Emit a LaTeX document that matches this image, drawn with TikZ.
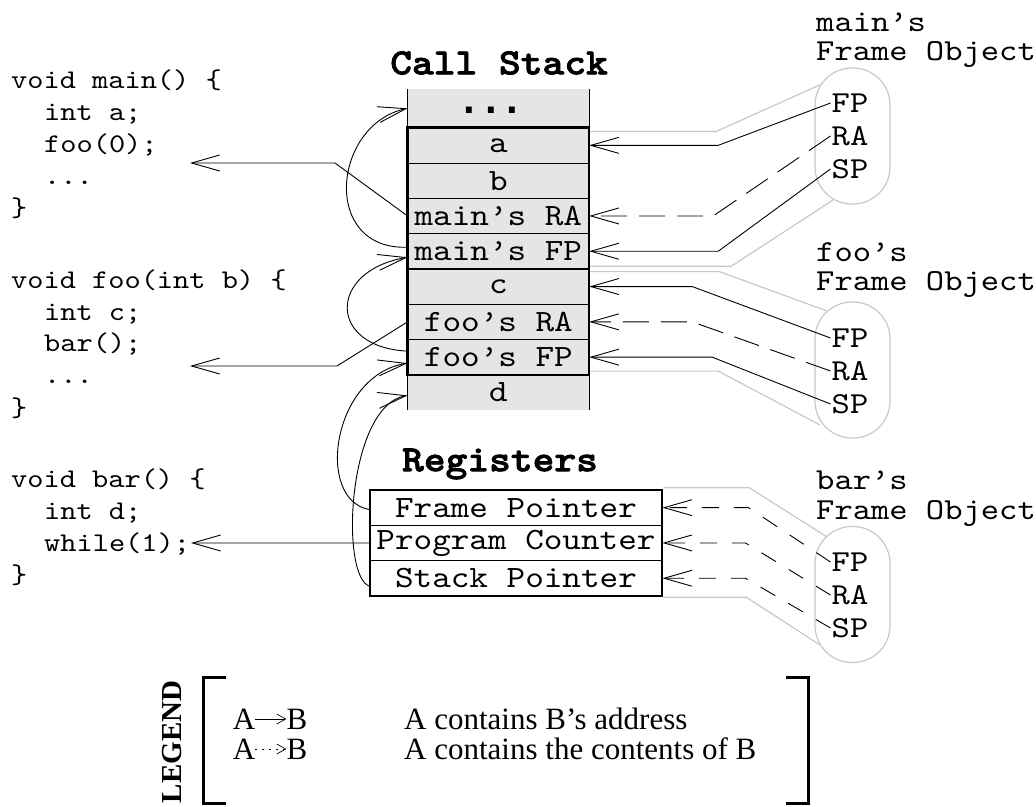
\documentclass[tikz,border=0pt]{standalone}
\usepackage{fontspec}
\setmainfont{Liberation Serif}
\newfontfamily\monof{lmmono10-regular}[Extension=.otf, FakeStretch=1.143]
\newfontfamily\monobf{lmmonolt10-bold}[Extension=.otf, FakeStretch=1.12, FakeBold=2]
\newfontfamily\dotsf{DejaVu Sans Mono Bold}
\usetikzlibrary{arrows.meta,calc}
\definecolor{cellgray}{HTML}{E5E5E5}
\definecolor{linegray}{HTML}{C8C8C8}
\newcommand\cdfont{\monof\fontsize{27}{32}\selectfont}
\newcommand\clfont{\monof\fontsize{31}{35}\selectfont}
\newcommand\lbfont{\monof\fontsize{30.5}{35}\selectfont}
\newcommand\ttlfont{\monobf\fontsize{37}{40}\selectfont}
\newcommand\lgfont{\fontsize{31}{32}\selectfont}
\begin{document}
\begin{tikzpicture}[x=1pt,y=-1pt,
  cell/.style={minimum width=181.3pt, minimum height=35.3pt, inner sep=0pt, font=\clfont},
  reg/.style={draw, line width=0.9pt, minimum width=292pt, minimum height=35.3pt, inner sep=0pt, font=\clfont},
  frm/.style={draw, line width=2.6pt, inner sep=0pt},
  ptr/.style={line width=0.9pt, -{Straight Barb[length=28pt,width=16pt]}},
  cnt/.style={ptr, dash pattern=on 26pt off 12pt},
  bcnt/.style={ptr, dash pattern=on 17pt off 15pt},
  funnel/.style={draw=linegray, line width=1.2pt},
  oval/.style={draw=linegray, line width=1.2pt, rounded corners=37pt, minimum width=75pt, minimum height=136pt, inner sep=0pt},
  lbl/.style={font=\lbfont, inner sep=1pt},
  code/.style={font=\cdfont, anchor=base west, inner sep=0pt},
  lgtxt/.style={font=\lgfont, inner sep=0pt},
  lgarrow/.style={line width=0.7pt, -{Straight Barb[length=9pt,width=10pt]}}
]
\useasboundingbox (0,0) rectangle (1036,806);

% ---------- code ----------
\node[code] (m1) at (11,88) {void main() \{};
\node[code] (m2) at (44,120) {int a;};
\node[code] (m3) at (44,152) {foo(0);};
\node[code] (m4) at (44,184) {...};
\node[code] (m5) at (11,216) {\}};
\node[code] (f1) at (11,288) {void foo(int b) \{};
\node[code] (f2) at (44,320) {int c;};
\node[code] (f3) at (44,351) {bar();};
\node[code] (f4) at (44,383) {...};
\node[code] (f5) at (11,416) {\}};
\node[code] (b1) at (11,487) {void bar() \{};
\node[code] (b2) at (44,519) {int d;};
\node[code] (b3) at (44,551) {while(1);};
\node[code] (b4) at (11,583) {\}};

% ---------- call stack ----------
\node[font=\ttlfont] (cst) at (499,63) {Call Stack};
\fill[cellgray] (407.7,89) rectangle (589,410.1);
\draw[line width=0.9pt] (407.7,89) -- (407.7,410.1) (589,89) -- (589,410.1);
\foreach \yy in {163,198.3,233.6,304.2,339.5}{\draw[line width=0.9pt] (407.7,\yy) -- (589,\yy);}
\node[cell, minimum height=38.7pt, font=\dotsf\fontsize{36}{36}\selectfont, text height=10pt, text depth=0pt] (dots) at (491,108.35) {...};
\node[cell] (a)   at (498.35,145.35) {a};
\node[cell] (b)   at (498.35,180.65) {b};
\node[cell] (mRA) at (498.35,215.95) {main’s RA};
\node[cell] (mFP) at (498.35,251.25) {main’s FP};
\node[cell] (c)   at (498.35,286.55) {c};
\node[cell] (fRA) at (498.35,321.85) {foo’s RA};
\node[cell] (fFP) at (498.35,357.15) {foo’s FP};
\node[cell] (d)   at (498.35,392.45) {d};
\node[frm, minimum width=181.3pt, minimum height=141.2pt] (mframe) at (498.35,198.3) {};
\node[frm, minimum width=181.3pt, minimum height=105.9pt] (fframe) at (498.35,321.85) {};

% ---------- registers ----------
\node[font=\ttlfont] (rtl) at (500,464) {Registers};
\node[reg] (rfp) at (516,507.65) {Frame Pointer};
\node[reg] (rpc) at (516,542.95) {Program Counter};
\node[reg] (rsp) at (516,578.25) {Stack Pointer};
\node[frm, minimum width=292pt, minimum height=105.9pt] (rbox) at (516,542.95) {};

% ---------- frame objects ----------
\node[lbl, anchor=west] (ml1) at (815,22) {main’s};
\node[lbl, anchor=west] (ml2) at (815,54) {Frame Object};
\node[lbl, anchor=west] (fl1) at (815,252) {foo’s};
\node[lbl, anchor=west] (fl2) at (815,284) {Frame Object};
\node[lbl, anchor=west] (bl1) at (815,480) {bar’s};
\node[lbl, anchor=west] (bl2) at (815,513) {Frame Object};

\node[oval] (mo) at (852.5,136) {};
\node[oval] (fo) at (852.5,370) {};
\node[oval] (bo) at (852.5,594.5) {};

\node[lbl] (mfp) at (850,103) {FP};
\node[lbl] (mra) at (850,136) {RA};
\node[lbl] (msp) at (850,169) {SP};
\node[lbl] (ffp) at (850,338) {FP};
\node[lbl] (fra) at (850,371) {RA};
\node[lbl] (fsp) at (850,404) {SP};
\node[lbl] (bfp) at (850,562) {FP};
\node[lbl] (bra) at (850,595) {RA};
\node[lbl] (bsp) at (850,628) {SP};

% funnels
\coordinate (mot) at (822,84);  \coordinate (mob) at (833,200);
\coordinate (fot) at (827,311); \coordinate (fob) at (820,425);
\coordinate (bot) at (827,537); \coordinate (bob) at (820,645);
\draw[funnel] ([yshift=-5pt]mframe.north east) -- +(126,0) -- (mot);
\draw[funnel] ([yshift=4pt]mframe.south east) -- +(141,0) -- (mob);
\draw[funnel] ([yshift=-4pt]fframe.north east) -- +(129,0) -- (fot);
\draw[funnel] ([yshift=5pt]fframe.south east) -- +(128,0) -- (fob);
\draw[funnel] ([yshift=1pt]rbox.north east) -- +(86,0) -- (bot);
\draw[funnel] (rbox.south east) -- +(83,0) -- (bob);

% ---------- right-side pointers ----------
\draw[ptr] (mfp.west) -- ($(a.east)+(129,0)$) -- (a.east);
\draw[cnt] (mra.west) -- ($(mRA.east)+(124,0)$) -- (mRA.east);
\draw[ptr] (msp.west) -- ($(mFP.east)+(129,0)$) -- (mFP.east);
\draw[ptr] (ffp.west) -- ($(c.east)+(103,0)$) -- (c.east);
\draw[cnt] (fra.west) -- ($(fRA.east)+(103,0)$) -- (fRA.east);
\draw[ptr] (fsp.west) -- ($(fFP.east)+(123,0)$) -- (fFP.east);
\draw[bcnt] (bfp.west) -- ($(rfp.east)+(86,0)$) -- (rfp.east);
\draw[bcnt] (bra.west) -- ($(rpc.east)+(83,0)$) -- (rpc.east);
\draw[bcnt] (bsp.west) -- ($(rsp.east)+(83,0)$) -- (rsp.east);

% ---------- left-side pointers ----------
\coordinate (t1) at (190,163);
\coordinate (t2) at (190,366);
\coordinate (t3) at (191,543);
\draw[ptr] (mRA.west) -- ($(t1)+(145,0)$) -- (t1);
\draw[ptr] (fRA.west) -- ($(t2)+(147,0)$) -- (t2);
\draw[ptr] (rpc.west) -- (t3);

\draw[ptr] ([yshift=4pt]mFP.west) .. controls +(-87,3) and +(-75,16) .. ([xshift=7.35pt]dots.west);
\draw[ptr] ([yshift=6pt]fFP.west) .. controls +(-80,-4) and +(-80,14) .. ([yshift=-6pt]mFP.west);
\draw[ptr] ([yshift=-2pt]rfp.west) .. controls +(-55,-10) and +(-75,12) .. ([yshift=-6pt]fFP.west);
\draw[ptr] ([yshift=-8pt]rsp.west) .. controls +(-30,-10) and +(-60,10) .. ([yshift=-3pt]d.west);

% ---------- legend ----------
\node[font=\fontsize{29}{30}\selectfont\bfseries, rotate=90] (leg) at (172,742) {LEGEND};
\draw[line width=3pt] (226,677) -| (203,803) -- (226,803);
\draw[line width=3pt] (786,677) -| (808,803) -- (786,803);
\node[lgtxt] (la1) at (244,719) {A};
\node[lgtxt] (lb1) at (297,719) {B};
\draw[lgarrow] (la1) -- (lb1);
\node[lgtxt, anchor=west] (ld1) at (404,719) {A contains B’s address};
\node[lgtxt] (la2) at (244,749) {A};
\node[lgtxt] (lb2) at (297,749) {B};
\draw[lgarrow, dash pattern=on 2pt off 5pt] (la2) -- (lb2);
\node[lgtxt, anchor=west] (ld2) at (404,749) {A contains the contents of B};
\end{tikzpicture}
\end{document}
